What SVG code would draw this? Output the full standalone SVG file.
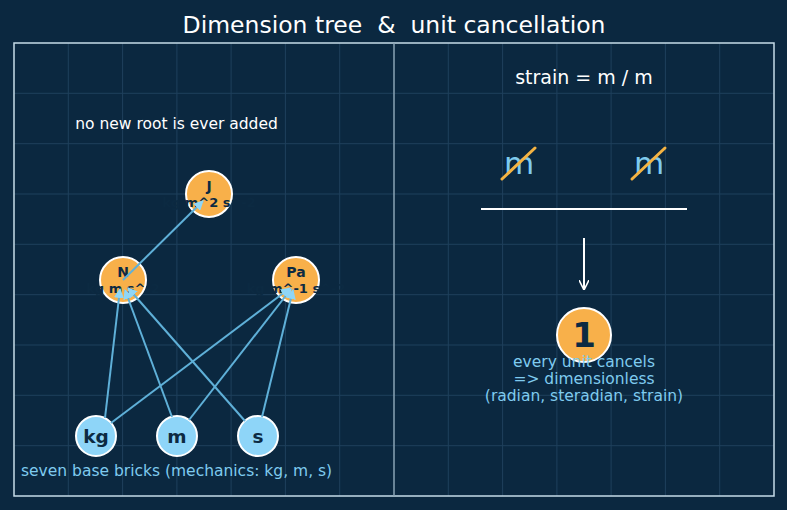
<svg xmlns="http://www.w3.org/2000/svg" width="787" height="510" viewBox="0 0 787 510">
<defs>
<style>
text{font-family:"DejaVu Sans","Liberation Sans",sans-serif}
.grid line{stroke:#1f405c;stroke-width:1}
.edge{stroke:#5fb0d8;stroke-width:2;fill:none;marker-end:url(#ah)}
.dim circle{fill:#f8b04a;stroke:#ffffff;stroke-width:2}
.base circle{fill:#8ed5f8;stroke:#ffffff;stroke-width:2}
.nt{fill:#0c2a42;font-weight:bold;text-anchor:middle}
.cap{fill:#7fcbef;font-size:15.5px}
.slash{stroke:#f5b342;stroke-width:3;stroke-linecap:round}
</style>
<marker id="ah" viewBox="0 0 10 10" refX="9" refY="5" markerWidth="5" markerHeight="5" orient="auto"><path d="M0,0 L10,5 L0,10 z" fill="#8fd6f7"/></marker>
<marker id="ahw" viewBox="0 0 10 10" refX="9" refY="5" markerWidth="5" markerHeight="5" orient="auto"><path d="M0,0 L10,5 L0,10" fill="none" stroke="#ffffff" stroke-width="1.6"/></marker>
</defs>
<rect width="787" height="510" fill="#0b2840"/>
<g class="grid">
<line x1="68.3" y1="43" x2="68.3" y2="496"/><line x1="122.6" y1="43" x2="122.6" y2="496"/><line x1="176.9" y1="43" x2="176.9" y2="496"/><line x1="231.1" y1="43" x2="231.1" y2="496"/><line x1="285.4" y1="43" x2="285.4" y2="496"/><line x1="339.7" y1="43" x2="339.7" y2="496"/><line x1="448.3" y1="43" x2="448.3" y2="496"/><line x1="502.6" y1="43" x2="502.6" y2="496"/><line x1="556.9" y1="43" x2="556.9" y2="496"/><line x1="611.1" y1="43" x2="611.1" y2="496"/><line x1="665.4" y1="43" x2="665.4" y2="496"/><line x1="719.7" y1="43" x2="719.7" y2="496"/>
<line x1="14" y1="93.3" x2="774" y2="93.3"/><line x1="14" y1="143.7" x2="774" y2="143.7"/><line x1="14" y1="194" x2="774" y2="194"/><line x1="14" y1="244.3" x2="774" y2="244.3"/><line x1="14" y1="294.7" x2="774" y2="294.7"/><line x1="14" y1="345" x2="774" y2="345"/><line x1="14" y1="395.3" x2="774" y2="395.3"/><line x1="14" y1="445.7" x2="774" y2="445.7"/>
</g>
<rect x="14" y="43" width="760" height="453" fill="none" stroke="#c6dbe8" stroke-width="1.5"/>
<line x1="394" y1="43" x2="394" y2="496" stroke="#8aa3b5" stroke-width="1.5"/>
<text x="394" y="33" font-size="23.5" fill="#ffffff" text-anchor="middle" xml:space="preserve">Dimension tree  &amp;  unit cancellation</text>
<text x="176.5" y="129" font-size="15.5" fill="#ffffff" text-anchor="middle">no new root is ever added</text>

<g id="node-J" class="dim"><circle cx="209" cy="194" r="23"/><text class="nt" x="209" y="191" font-size="14">J</text><text class="nt" x="209" y="207" font-size="13">kg m^2 s^-2</text></g>
<g id="node-N" class="dim"><circle cx="123" cy="280" r="23"/><text class="nt" x="123" y="277" font-size="14">N</text><text class="nt" x="123" y="293" font-size="13">kg m s^-2</text></g>
<g id="node-Pa" class="dim"><circle cx="296" cy="280" r="23"/><text class="nt" x="296" y="277" font-size="14">Pa</text><text class="nt" x="296" y="293" font-size="13">kg m^-1 s^-2</text></g>
<g id="node-kg" class="base"><circle cx="96" cy="436" r="20"/><text class="nt" x="96" y="442.5" font-size="18.5">kg</text></g>
<g id="node-m" class="base"><circle cx="177" cy="436" r="20"/><text class="nt" x="177" y="442.5" font-size="18.5">m</text></g>
<g id="node-s" class="base"><circle cx="258" cy="436" r="20"/><text class="nt" x="258" y="442.5" font-size="18.5">s</text></g>

<g id="connectors">
<line class="edge" x1="123" y1="280" x2="203" y2="201"/>
<line class="edge" x1="105" y1="418" x2="120" y2="289"/>
<line class="edge" x1="172" y1="417" x2="125" y2="290"/>
<line class="edge" x1="245" y1="421" x2="128" y2="288"/>
<line class="edge" x1="111" y1="423" x2="290" y2="288"/>
<line class="edge" x1="189" y1="420" x2="291" y2="289"/>
<line class="edge" x1="262" y1="417" x2="293" y2="290"/>
</g>

<text class="cap" x="21" y="476">seven base bricks (mechanics: kg, m, s)</text>

<text x="584" y="84" font-size="19" fill="#ffffff" text-anchor="middle">strain = m / m</text>
<text x="519" y="174" font-size="31" fill="#7fcbef" text-anchor="middle">m</text>
<text x="649" y="174" font-size="31" fill="#7fcbef" text-anchor="middle">m</text>
<line class="slash" x1="502" y1="179" x2="535" y2="148"/>
<line class="slash" x1="632" y1="179" x2="665" y2="148"/>
<line x1="481" y1="209" x2="687" y2="209" stroke="#ffffff" stroke-width="2"/>
<line x1="584" y1="238" x2="584" y2="289" stroke="#ffffff" stroke-width="2" marker-end="url(#ahw)"/>
<g id="node-one" class="dim"><circle cx="584" cy="335" r="27"/><text class="nt" x="584" y="347" font-size="34">1</text></g>
<text class="cap" x="584" y="367" text-anchor="middle">every unit cancels</text>
<text class="cap" x="584" y="384" text-anchor="middle">=&gt; dimensionless</text>
<text class="cap" x="584" y="401" text-anchor="middle">(radian, steradian, strain)</text>
</svg>
